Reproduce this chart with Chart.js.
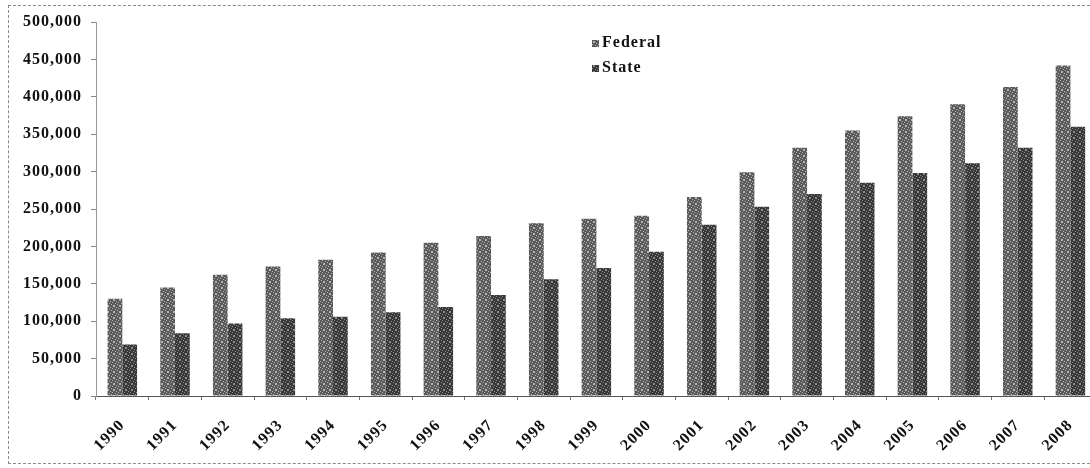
<!DOCTYPE html>
<html lang="en">
<head>
    <meta charset="UTF-8">
    <title>Federal and State</title>
    <script src="https://cdn.jsdelivr.net/npm/chart.js@4.4.0/dist/chart.umd.min.js"></script>
    <style>
        body { margin: 0; background: #fff; overflow: hidden; width: 1090px; height: 468px; }
        #frame { position: absolute; left: 8px; top: 5px; width: 1100px; height: 457px; border: 1px dashed #8a8a8a; }
        #myChart { position: absolute; left: 0; top: 0; }
    </style>
</head>
<body>
    <div id="frame"></div>
    <canvas id="myChart" width="1100" height="468"></canvas>

    <script>
        const years = ['1990', '1991', '1992', '1993', '1994', '1995', '1996', '1997', '1998', '1999',
                       '2000', '2001', '2002', '2003', '2004', '2005', '2006', '2007', '2008'];
        const federal = [130000, 145000, 162000, 173000, 182000, 192000, 205000, 214000, 231000, 237000,
                         241000, 266000, 299000, 332000, 355000, 374000, 390000, 413000, 442000];
        const state = [69000, 84000, 97000, 104000, 106000, 112000, 119000, 135000, 156000, 171000,
                       193000, 229000, 253000, 270000, 285000, 298000, 311000, 332000, 360000];
        const yTicks = [0, 50000, 100000, 150000, 200000, 250000, 300000, 350000, 400000, 450000, 500000];

        // grainy fill, a bit like the scanned print
        function grain(base, light) {
            const c = document.createElement('canvas');
            c.width = 6; c.height = 6;
            const g = c.getContext('2d');
            g.fillStyle = base;
            g.fillRect(0, 0, 6, 6);
            g.fillStyle = light;
            for (let y = 0; y < 6; y++) {
                for (let x = 0; x < 6; x++) {
                    if ((x * 7 + y * 11) % 5 === 0) g.fillRect(x, y, 1, 1);
                }
            }
            return g.createPattern(c, 'repeat');
        }

        const font = "'Liberation Serif', 'Times New Roman', serif";

        const spacing = {
            id: 'spacing',
            beforeLayout(chart) { chart.ctx.letterSpacing = '1px'; },
            beforeDraw(chart) { chart.ctx.letterSpacing = '1px'; }
        };

        const legendBox = {
            id: 'legendBox',
            afterDraw(chart) {
                const ctx = chart.ctx;
                ctx.save();
                ctx.letterSpacing = '1px';
                ctx.font = 'bold 16px ' + font;
                ctx.textBaseline = 'middle';
                chart.data.datasets.forEach((ds, i) => {
                    const y = 43 + i * 25;
                    ctx.fillStyle = ds.backgroundColor;
                    ctx.fillRect(592, y - 3, 7, 7);
                    ctx.fillStyle = '#111';
                    ctx.fillText(ds.label, 602, y);
                });
                ctx.restore();
            }
        };

        const ctx = document.getElementById('myChart').getContext('2d');
        const myChart = new Chart(ctx, {
            type: 'bar',
            data: {
                labels: years,
                datasets: [{
                    label: 'Federal',
                    data: federal,
                    backgroundColor: grain('#5a5a5a', '#b4b4b4')
                }, {
                    label: 'State',
                    data: state,
                    backgroundColor: grain('#383838', '#8c8c8c')
                }]
            },
            options: {
                responsive: false,
                animation: false,
                layout: { padding: { top: 22, left: 0, right: 0, bottom: 0 } },
                datasets: { bar: { barPercentage: 1, categoryPercentage: 0.56 } },
                plugins: {
                    legend: { display: false },
                    tooltip: { enabled: false }
                },
                scales: {
                    x: {
                        afterFit: s => { s.height = 72; },
                        grid: { drawOnChartArea: false, tickLength: 4, color: '#777' },
                        border: { color: '#555', width: 1 },
                        ticks: {
                            autoSkip: false,
                            maxRotation: 45,
                            minRotation: 45,
                            color: '#111',
                            padding: 16,
                            font: { family: font, size: 16, weight: 'bold' }
                        }
                    },
                    y: {
                        min: 0,
                        max: 500000,
                        afterFit: s => { s.width = 96; },
                        afterBuildTicks: s => { s.ticks = yTicks.map(v => ({ value: v })); },
                        grid: { drawOnChartArea: false, tickLength: 5, color: '#888' },
                        border: { color: '#999', width: 1, dash: [2, 2] },
                        ticks: {
                            color: '#111',
                            padding: 9,
                            font: { family: font, size: 16, weight: 'bold' },
                            callback: v => v.toLocaleString('en-US')
                        }
                    }
                }
            },
            plugins: [spacing, legendBox]
        });
    </script>
</body>
</html>
